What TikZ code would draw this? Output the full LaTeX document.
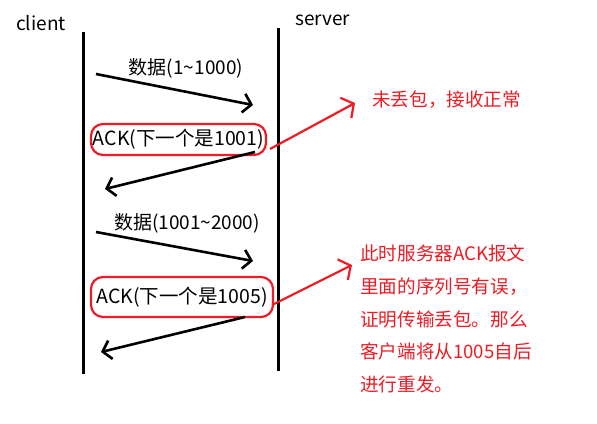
\documentclass[tikz,border=0pt]{standalone}
\usepackage{fontspec}
\newfontfamily\cjk{Noto Sans CJK SC}
\usetikzlibrary{arrows.meta}
\definecolor{pred}{RGB}{237,28,36}
\tikzset{
  life/.style={line width=3pt, black},
  msg/.style={line width=2.6pt, black, -{Straight Barb[length=8pt,width=19pt,line width=2.6pt]}},
  note/.style={line width=2.2pt, pred, -{Straight Barb[length=9pt,width=23pt,line width=2.2pt]}},
  lbl/.style={font=\cjk\fontsize{19}{21}\selectfont, inner sep=0pt},
  redbox/.style={draw=pred, line width=2.2pt, rounded corners=12pt, font=\cjk\fontsize{19.5}{21}\selectfont, inner sep=0pt},
  redtxt/.style={font=\cjk\fontsize{18.6}{32.6}\selectfont, text=pred, align=left, inner sep=0pt}
}
\begin{document}
\begin{tikzpicture}[x=1pt,y=-1pt]
\useasboundingbox (0,0) rectangle (597,423);
% headings
\node[lbl, anchor=west] (client) at (16,23) {client};
\node[lbl, anchor=west] (server) at (295,20) {server};
% lifelines
\coordinate (ctop) at (83,32);
\coordinate (cbot) at (83,374);
\coordinate (stop) at (278,28);
\coordinate (sbot) at (278,371);
\draw[life] (ctop) -- (cbot);
\draw[life] (stop) -- (sbot);
% message 1
\coordinate (m1s) at (96,74);
\coordinate (m1e) at (253,105);
\draw[msg] (m1s) -- (m1e);
\node[lbl] (d1) at (186,68) {数据(1\textasciitilde 1000)};
% ack 1
\node[redbox, minimum width=175pt, minimum height=31pt] (ack1) at (178.5,139.5) {ACK(下一个是1001)};
\coordinate (m2s) at (255,152);
\coordinate (m2e) at (105,189);
\draw[msg] (m2s) -- (m2e);
% message 3
\coordinate (m3s) at (96,232);
\coordinate (m3e) at (253,261);
\draw[msg] (m3s) -- (m3e);
\node[lbl] (d2) at (187,223) {数据(1001\textasciitilde 2000)};
% ack 2
\node[redbox, minimum width=182pt, minimum height=40pt] (ack2) at (182,297) {ACK(下一个是1005)};
\coordinate (m4s) at (245,317);
\coordinate (m4e) at (101,352);
\draw[msg] (m4s) -- (m4e);
% notes
\coordinate (n1s) at (270,149);
\coordinate (n1e) at (355,103);
\draw[note] (n1s) -- (n1e);
\node[redtxt, anchor=west] (note1) at (372,100) {未丢包，接收正常};
\coordinate (n2s) at (272,305);
\coordinate (n2e) at (352,265);
\draw[note] (n2s) -- (n2e);
\node[redtxt, anchor=north west] (note2) at (360,245) {此时服务器ACK报文\\里面的序列号有误，\\证明传输丢包。那么\\客户端将从1005自后\\进行重发。};
\end{tikzpicture}
\end{document}
